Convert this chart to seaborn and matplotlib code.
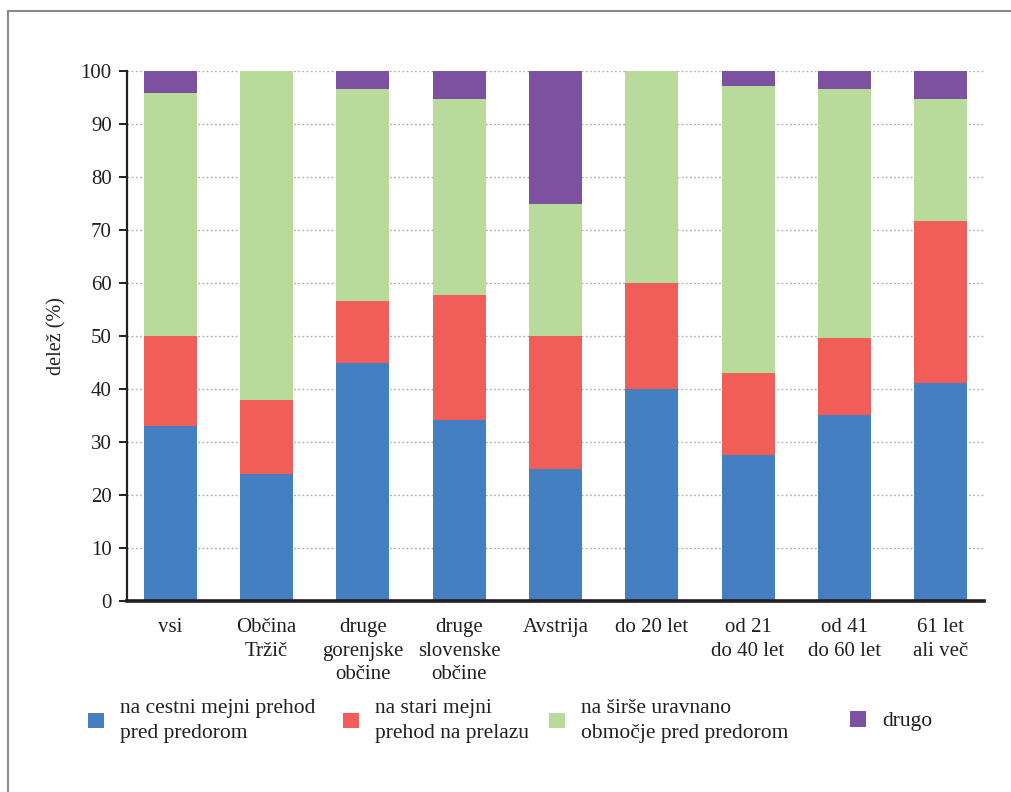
import matplotlib
matplotlib.use('Agg')
from matplotlib import pyplot as plt
from matplotlib.patches import Patch, Rectangle
import seaborn as sb
import numpy as np
import pandas as pd

# categories (x axis)
categories = ['vsi', 'Občina\nTržič', 'druge\ngorenjske\nobčine', 'druge\nslovenske\nobčine',
              'Avstrija', 'do 20 let', 'od 21\ndo 40 let', 'od 41\ndo 60 let', '61 let\nali več']

# shares in %
cestni = [33.0, 24.0, 45.0, 34.2, 25.0, 40.0, 27.5, 35.1, 41.1]
stari = [17.0, 14.0, 11.6, 23.5, 25.0, 20.0, 15.5, 14.5, 30.6]
sirse = [45.8, 62.0, 40.0, 37.0, 25.0, 40.0, 54.2, 47.0, 23.0]
drugo = [4.2, 0.0, 3.4, 5.3, 25.0, 0.0, 2.8, 3.4, 5.3]

series_names = ['na cestni mejni prehod\npred predorom', 'na stari mejni\nprehod na prelazu',
                'na širše uravnano\nobmočje pred predorom', 'drugo']
colors = ['#4480C1', '#F15E57', '#B8DA9B', '#7C51A0']
y_ticks = list(range(0, 101, 10))

serif = ['Liberation Serif', 'DejaVu Serif']

sb.set_style('white')
plt.rcParams['font.family'] = serif

df = pd.DataFrame({'cat': categories, 'c': cestni, 's': stari, 'w': sirse, 'd': drugo})
# cumulative stacks, drawn from the top layer down
stacks = np.cumsum(df[['c', 's', 'w', 'd']].to_numpy(), axis=1)

fig = plt.figure(figsize=(10.11, 7.92), dpi=100)
ax = fig.add_axes([127 / 1011, 1 - 601 / 792, (984 - 127) / 1011, (601 - 71) / 792])

ax.set_axisbelow(True)
ax.grid(True, axis='y', color='#aaaaaa', linestyle=(0, (1.2, 1.8)), linewidth=1.0)
ax.grid(False, axis='x')

for i in range(3, -1, -1):
    sb.barplot(x=df['cat'], y=np.minimum(stacks[:, i], 100), color=colors[i],
               width=0.55, saturation=1, linewidth=0, ax=ax, zorder=2)

ax.set_ylim(0, 100)
ax.set_xlim(-0.45, 8.45)
ax.set_yticks(y_ticks)
ax.set_xlabel('')
ax.set_ylabel('delež (%)', fontsize=14.5, labelpad=10, color='#231f20')

for s in ['top', 'right']:
    ax.spines[s].set_visible(False)
ax.spines['left'].set_color('#231f20')
ax.spines['left'].set_linewidth(1.6)
ax.spines['bottom'].set_color('#231f20')
ax.spines['bottom'].set_linewidth(2.6)
ax.tick_params(axis='y', which='major', length=6, width=1.4, color='#231f20',
               labelsize=15, labelcolor='#231f20', pad=5, left=True)
ax.tick_params(axis='x', length=0, labelsize=15, labelcolor='#231f20', pad=12)
for lbl in ax.get_xticklabels():
    lbl.set_linespacing(1.35)
    lbl.set_verticalalignment('top')

# legend: one entry per box so spacing matches
anchors = [88, 343, 549, 850]
for name, col, xa in zip(series_names, colors, anchors):
    leg = fig.legend(handles=[Patch(facecolor=col, edgecolor='none')], labels=[name],
                     loc='center left', bbox_to_anchor=(xa / 1011 - 0.017, 1 - 721 / 792),
                     frameon=False, fontsize=15.5, handlelength=0.75, handleheight=0.75,
                     handletextpad=0.75, labelcolor='#231f20', borderpad=0.3)
    for t in leg.get_texts():
        t.set_linespacing(1.4)

# outer frame
fig.add_artist(Rectangle((8 / 1011, -0.2), 1.2, 1.2 - 11 / 792, transform=fig.transFigure,
                         fill=False, edgecolor='#8a8a8a', linewidth=1.5))

fig.savefig('out.png', dpi=100)
